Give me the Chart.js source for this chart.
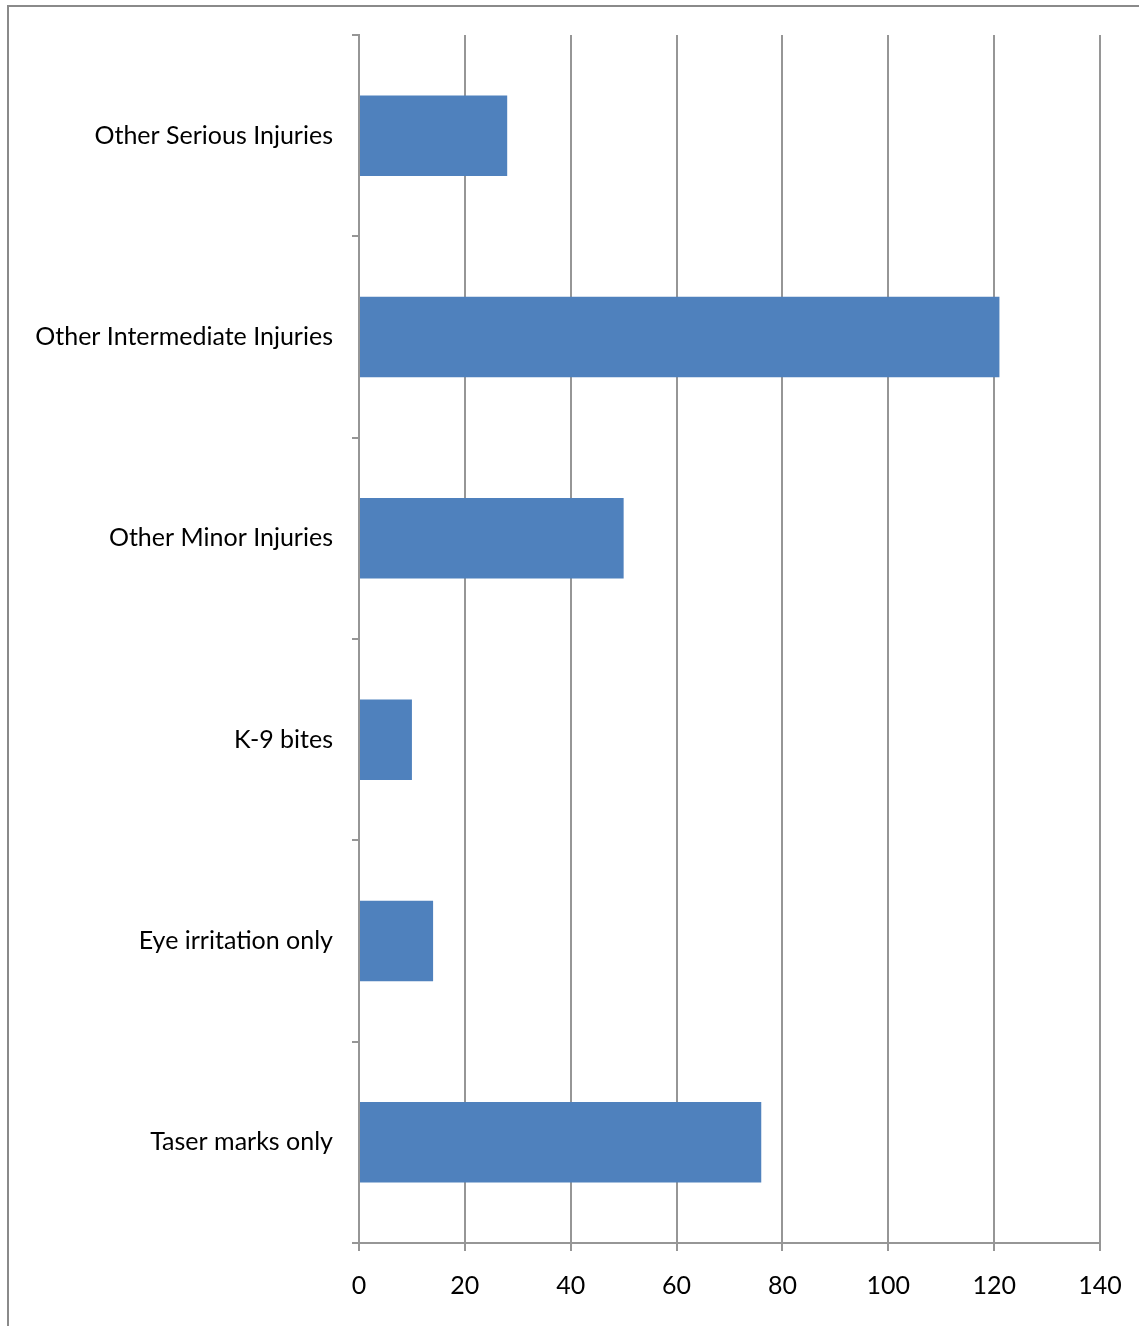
<!DOCTYPE html>
<html>
<head>
<meta charset="utf-8">
<script src="https://cdn.jsdelivr.net/npm/chart.js@4/dist/chart.umd.min.js"></script>
<style>
  html, body { margin: 0; padding: 0; background: #fff; overflow: hidden; }
  #wrap { position: relative; width: 1139px; height: 1326px; }
  #frame {
    position: absolute; left: 7px; top: 5px; width: 1200px; height: 1400px;
    border-left: 2px solid #8a8a8a; border-top: 2px solid #8a8a8a;
  }
  #chart { position: absolute; left: 0; top: 0; }
</style>
</head>
<body>
<div id="wrap">
  <div id="frame"></div>
  <canvas id="chart" width="1139" height="1326"></canvas>
</div>
<script>
const categorias = [
  "Other Serious Injuries",
  "Other Intermediate Injuries",
  "Other Minor Injuries",
  "K-9 bites",
  "Eye irritation only",
  "Taser marks only",
];
const quantidades = [28, 121, 50, 10, 14, 76];
const eixoMin = 0;
const eixoMax = 140;
const eixoPasso = 20;

const corBarra = "#4F81BD";
const corGrade = "#969696";
const fonte = { family: "Lato, 'Open Sans', sans-serif", size: 25 };

const ctx = document.getElementById("chart");

new Chart(ctx.getContext("2d"), {
  type: "bar",
  data: {
    labels: categorias,
    datasets: [
      {
        data: quantidades,
        backgroundColor: corBarra,
        borderWidth: 0,
        categoryPercentage: 0.4,
        barPercentage: 1,
      },
    ],
  },
  options: {
    indexAxis: "y",
    responsive: false,
    animation: false,
    layout: { padding: { top: 35, right: 39, left: 0, bottom: 0 } },
    plugins: {
      legend: { display: false },
      tooltip: { enabled: false },
    },
    scales: {
      x: {
        min: eixoMin,
        max: eixoMax,
        ticks: { stepSize: eixoPasso, color: "#000", font: fonte, padding: 20 },
        grid: { color: corGrade, lineWidth: 2, tickLength: 8 },
        border: { color: corGrade, width: 2 },
        afterFit: (scale) => {
          scale.height = 83;
          scale.paddingLeft = 0;
          scale.paddingRight = 0;
        },
      },
      y: {
        ticks: { color: "#000", font: fonte, padding: 19 },
        grid: { color: corGrade, lineWidth: 2, tickLength: 7, drawOnChartArea: false, offset: true },
        border: { color: corGrade, width: 2 },
        afterFit: (scale) => { scale.width = 359; },
      },
    },
  },
});
</script>
</body>
</html>
